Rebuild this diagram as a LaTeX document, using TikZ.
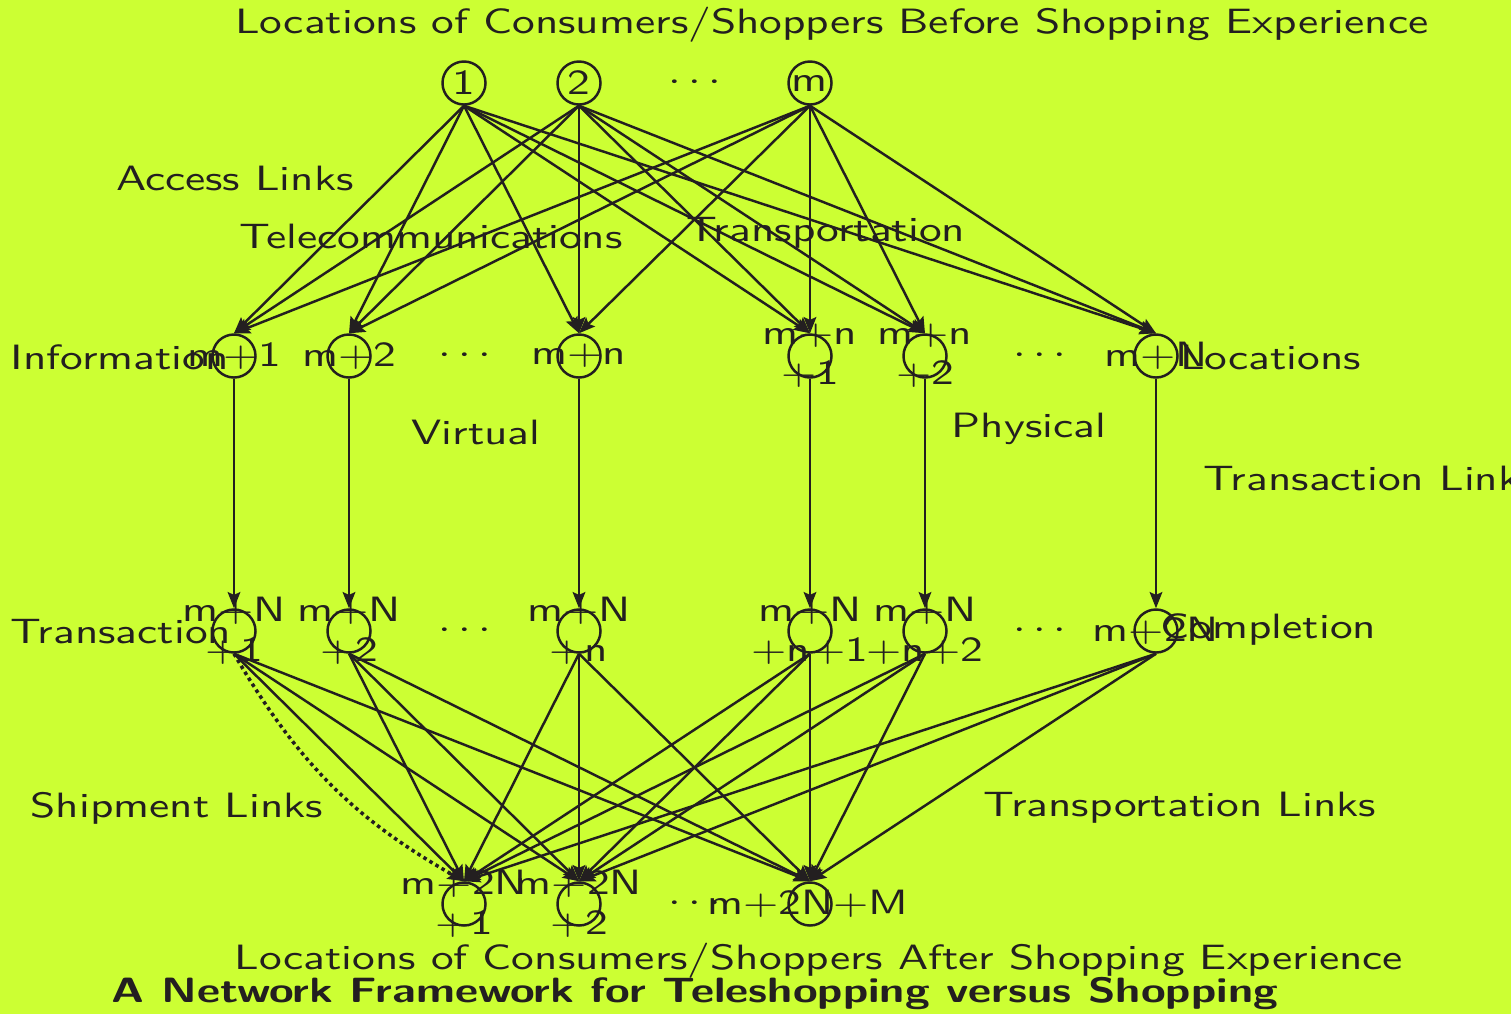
\documentclass[tikz,border=0pt]{standalone}
\usepackage{graphicx}
\usetikzlibrary{arrows.meta}
\definecolor{bg}{RGB}{204,255,51}
\definecolor{ink}{RGB}{35,31,32}
\newcommand{\sx}[1]{\scalebox{1.29}[1]{#1}}
\newcommand{\sxb}[1]{\scalebox{1.28}[1]{#1}}
\begin{document}
\begin{tikzpicture}[x=0.01cm,y=-0.01cm,
  every node/.style={font=\sffamily\fontsize{10}{11.4}\selectfont, text=ink},
  vtx/.style={circle, draw=ink, line width=0.7pt, minimum size=4.3mm, inner sep=0pt},
  lbl/.style={align=center, inner sep=0pt},
  link/.style={draw=ink, line width=0.7pt, -{Stealth[length=4.6pt,width=3.6pt,inset=0.8pt]}},
  dotlink/.style={draw=ink, line width=1pt, densely dotted, -{Stealth[length=4.6pt,width=3.6pt,inset=0.8pt]}}
]
\fill[bg] (0,0) rectangle (1511,1014);
\useasboundingbox (0,0) rectangle (1511,1014);

% top row
\node[vtx] (t1) at (464,83) {\sx{1}};
\node[vtx] (t2) at (579,83) {\sx{2}};
\node[lbl] (tdots) at (695,83) {\sx{$\cdots$}};
\node[vtx] (tm) at (810,83) {\sx{m}};

% second row
\foreach \n/\x/\t in {a/234/\sx{m+1}, b/349/\sx{m+2}, c/579/\sx{m+n}, d/810/\sx{m+n}\\\sx{+1}, e/925/\sx{m+n}\\\sx{+2}, f/1156/\sx{m+N}}{
  \node[vtx] (r2\n) at (\x,356) {};
  \node[lbl] (r2\n l) at (\x,356) {\t};
}
\node[lbl] (r2dots1) at (465,356) {\sx{$\cdots$}};
\node[lbl] (r2dots2) at (1040,356) {\sx{$\cdots$}};

% third row
\foreach \n/\x/\t in {a/234/\sx{m+N}\\\sx{+1}, b/349/\sx{m+N}\\\sx{+2}, c/579/\sx{m+N}\\\sx{+n}, d/810/\sx{m+N}\\\sx{+n+1}, e/925/\sx{m+N}\\\sx{+n+2}, f/1156/\sx{m+2N}}{
  \node[vtx] (r3\n) at (\x,631) {};
  \node[lbl] (r3\n l) at (\x,631) {\t};
}
\node[lbl] (r3dots1) at (465,631) {\sx{$\cdots$}};
\node[lbl] (r3dots2) at (1040,631) {\sx{$\cdots$}};

% bottom row
\node[vtx] (b1) at (464,904) {};
\node[lbl] (b1l) at (464,904) {\sx{m+2N}\\\sx{+1}};
\node[vtx] (b2) at (579,904) {};
\node[lbl] (b2l) at (579,904) {\sx{m+2N}\\\sx{+2}};
\node[lbl] (bdots) at (695,904) {\sx{$\cdots$}};
\node[vtx] (bM) at (810,904) {};
\node[lbl] (bMl) at (808,904) {\sx{m+2N+M}};

% edges
\foreach \s in {t1,t2,tm}
  \foreach \d in {r2a,r2b,r2c,r2d,r2e,r2f}
    \draw[link] (\s.south) -- (\d.north);
\foreach \i in {a,b,c,d,e,f}
  \draw[link] (r2\i.south) -- (r3\i.north);
\foreach \s in {r3a,r3b,r3c,r3d,r3e,r3f}
  \foreach \d in {b1,b2,bM}
    \draw[link] (\s.south) -- (\d.north);
\draw[dotlink] (r3a.south) to[bend right=15] (b1.north);

% texts
\node[lbl] (ttop) at (832,25) {\sx{Locations of Consumers/Shoppers Before Shopping Experience}};
\node[lbl] (tacc) at (235,178) {\sx{Access Links}};
\node[lbl] (ttel) at (431,236) {\sx{Telecommunications}};
\node[lbl] (ttra) at (826,233) {\sx{Transportation}};
\node[lbl, anchor=west] (tinf) at (10,357) {\sx{Information}};
\node[lbl, anchor=east] (tloc) at (1362,357) {\sx{Locations}};
\node[lbl] (tvir) at (476,432) {\sx{Virtual}};
\node[lbl] (tphy) at (1029,429) {\sx{Physical}};
\node[lbl, anchor=west] (ttl) at (1203,478) {\sx{Transaction Links}};
\node[lbl, anchor=west] (ttrn) at (10,632) {\sx{Transaction}};
\node[lbl, anchor=east] (tcom) at (1377,629) {\sx{Completion}};
\node[lbl] (tship) at (177,808) {\sx{Shipment Links}};
\node[lbl] (ttrl) at (1180,808) {\sx{Transportation Links}};
\node[lbl] (tbot) at (819,961) {\sx{Locations of Consumers/Shoppers After Shopping Experience}};
\node[lbl, font=\sffamily\bfseries\fontsize{10}{11.4}\selectfont] (ttitle) at (695,994) {\sxb{A Network Framework for Teleshopping versus Shopping}};
\end{tikzpicture}
\end{document}
